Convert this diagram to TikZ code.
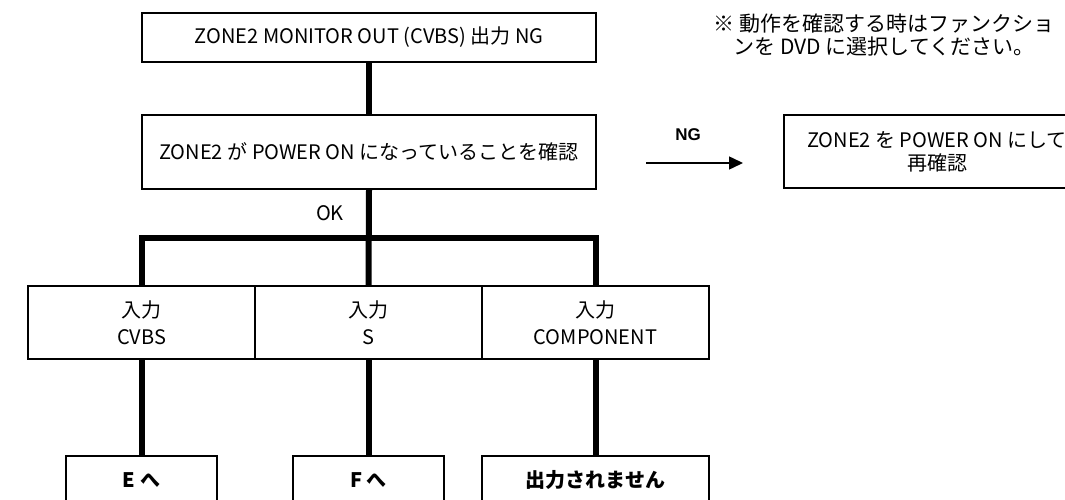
\documentclass[tikz,border=0pt]{standalone}
\usepackage{fontspec}
\setmainfont{Noto Sans CJK JP}
\newfontfamily\ngfont{Liberation Sans}
\usetikzlibrary{arrows.meta}
\begin{document}
\begin{tikzpicture}[x=1pt,y=-1pt,
  box/.style={draw,line width=2pt,inner sep=0pt,align=center,font=\fontsize{20}{23}\selectfont},
  rowbox/.style={box,minimum width=227pt,minimum height=73pt,font=\fontsize{20}{27}\selectfont},
  endbox/.style={box,minimum width=151pt,minimum height=48pt,font=\bfseries\fontsize{20}{24}\selectfont},
  link/.style={line width=6pt},
  plain/.style={inner sep=0pt,align=center,font=\fontsize{20}{23}\selectfont}]
\useasboundingbox (0,0) rectangle (1065,500);
\node[box,minimum width=454pt,minimum height=49pt] (top) at (369,37.5) {ZONE2 MONITOR OUT (CVBS) 出力 NG};
\node[box,minimum width=454pt,minimum height=74pt] (chk) at (369,152) {ZONE2 が POWER ON になっていることを確認};
\node[box,minimum width=306pt,minimum height=73pt] (fix) at (937,151.5) {ZONE2 を POWER ON にして\\再確認};
\node[plain,font=\fontsize{21}{23}\selectfont] (note) at (884,35) {※ 動作を確認する時はファンクショ\\ンを DVD に選択してください。};
\node[plain] (ok) at (330,213) {OK};
\node[rowbox] (inA) at (141.5,322.5) {入力\\CVBS};
\node[rowbox] (inB) at (368.5,322.5) {入力\\S};
\node[rowbox] (inC) at (595.5,322.5) {入力\\COMPONENT};
\node[endbox] (outA) at (141.5,480) {E へ};
\node[endbox] (outB) at (368.5,480) {F へ};
\node[endbox,minimum width=227pt] (outC) at (595.5,480) {出力されません};
\node[inner sep=0pt,font=\ngfont\bfseries\fontsize{17}{20}\selectfont] (ng) at (688,135) {NG};
\coordinate (bar) at (368.5,238);
\coordinate (ngA) at (646,163);
\coordinate (ngB) at (743,163);
\draw[link] (top.south) -- (chk.north);
\draw[link] (chk.south) -- (inB.north);
\draw[link] (inA.north) |- (bar) -| (inC.north);
\draw[link] (inA.south) -- (outA.north);
\draw[link] (inB.south) -- (outB.north);
\draw[link] (inC.south) -- (outC.north);
\draw[line width=1.5pt,-{Triangle[length=14pt,width=13pt]}] (ngA) -- (ngB);
\end{tikzpicture}
\end{document}
